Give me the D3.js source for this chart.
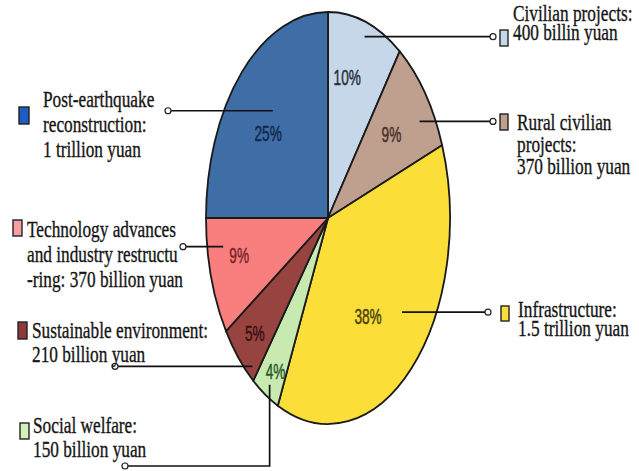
<!DOCTYPE html>
<html>
<head>
<meta charset="utf-8">
<script src="https://cdn.jsdelivr.net/npm/d3@7"></script>
<style>
  html, body { margin: 0; padding: 0; background: #fff; }
  svg { display: block; }
</style>
</head>
<body>
<div id="chart"></div>
<script>
// data: investment split, billion yuan, clockwise from 12 o'clock
const categories = ['Civilian projects', 'Rural civilian projects', 'Infrastructure', 'Social welfare',
  'Sustainable environment', 'Technology advances and industry restructuring', 'Post-earthquake reconstruction'];
const amounts = [400, 370, 1500, 150, 210, 370, 1000];
const percentLabels = ['10%', '9%', '38%', '4%', '5%', '9%', '25%'];
const legendLines = [
  ['Civilian projects:', '400 billin yuan'],
  ['Rural civilian', 'projects:', '370 billion yuan'],
  ['Infrastructure:', '1.5 trillion yuan'],
  ['Social welfare:', '150 billion yuan'],
  ['Sustainable environment:', '210 billion yuan'],
  ['Technology advances', 'and industry restructu', '-ring: 370 billion yuan'],
  ['Post-earthquake', 'reconstruction:', '1 trillion yuan'],
];

// styles
const fills = ['#c6d7ea', '#bf9f8e', '#fbdf38', '#c8eab0', '#974440', '#f97f7f', '#3f6ea6'];
const labelColors = ['#2a2f3a', '#4a3028', '#4d4210', '#2a5a2a', '#3a1212', '#7a2626', '#14284c'];
const swatchFills = ['#c6d7ea', '#bf9f8e', '#fbdf38', '#d2f0bc', '#8e3a38', '#f8a0a0', '#1d5ec4'];

// layout (pie is drawn as a circle squashed into an ellipse)
const W = 639, H = 471;
const cx = 328, cy = 218, rx = 122, ry = 206;
const labelPos = [[13, .70], [52, .66], [145.5, .58], [210, .86], [227, .82], [256, .75], [310, .64]];
const leaderFrom = [[18.8, .93], [58, .885], [127, .76], [210.6, .94], [220.7, .95], [260.8, .87], [319, .69]];
// circle end of each leader, legend swatch and text block
const legendLayout = [
  { cx: 493, sw: [500, 30, 8, 16], tx: 513, ty: 21, lh: 19 },
  { cx: 493, sw: [500, 114, 8, 16], tx: 517, ty: 130, lh: 22 },
  { cx: 488, sw: [501, 306, 8, 15], tx: 518, ty: 317, lh: 19 },
  { cx: 125, cy: 466, sw: [20, 423, 9, 16], tx: 33, ty: 433, lh: 24 },
  { cx: 115, sw: [18, 322, 9, 17], tx: 32, ty: 338, lh: 24 },
  { cx: 183, sw: [13, 220, 9, 16], tx: 27, ty: 237, lh: 25 },
  { cx: 168, sw: [19, 107, 10, 17], tx: 43, ty: 107, lh: 25 },
];

const ePoint = (deg, r) => {
  const a = deg * Math.PI / 180;
  return [cx + rx * r * Math.sin(a), cy - ry * r * Math.cos(a)];
};

const svg = d3.select('#chart').append('svg')
  .attr('width', W)
  .attr('height', H);

const pie = d3.pie().sort(null).value(d => d);
const arcs = pie(amounts);
const arc = d3.arc().innerRadius(0).outerRadius(100);

const pieG = svg.append('g')
  .attr('transform', `translate(${cx},${cy}) scale(${rx / 100},${ry / 100})`);

pieG.selectAll('path.slice')
  .data(arcs)
  .enter()
  .append('path')
  .attr('class', 'slice')
  .attr('d', arc)
  .attr('fill', (d, i) => fills[i])
  .attr('stroke', '#1a1a1a')
  .attr('stroke-width', 1.8)
  .attr('vector-effect', 'non-scaling-stroke');

// leader lines
const leaders = svg.append('g').attr('class', 'leaders');
arcs.forEach((d, i) => {
  const [x0, y0] = ePoint(leaderFrom[i][0], leaderFrom[i][1]);
  const L = legendLayout[i];
  let pts;
  if (L.cy !== undefined) {
    pts = [[x0, y0], [x0, L.cy], [L.cx + 3, L.cy]];
  } else {
    pts = [[x0, y0], [L.cx + (L.cx > cx ? -3 : 3), y0]];
  }
  leaders.append('path')
    .attr('d', d3.line()(pts))
    .attr('fill', 'none')
    .attr('stroke', '#111')
    .attr('stroke-width', 1.7);
  leaders.append('circle')
    .attr('cx', L.cx)
    .attr('cy', L.cy !== undefined ? L.cy : y0)
    .attr('r', 3)
    .attr('fill', '#fff')
    .attr('stroke', '#222')
    .attr('stroke-width', 1.2);
});

// percent labels
svg.selectAll('g.pct')
  .data(arcs)
  .enter()
  .append('g')
  .attr('class', 'pct')
  .attr('transform', (d, i) => {
    const [x, y] = ePoint(labelPos[i][0], labelPos[i][1]);
    return `translate(${x},${y}) scale(0.62,1)`;
  })
  .append('text')
  .attr('text-anchor', 'middle')
  .attr('dy', '0.36em')
  .attr('font-family', '"Liberation Sans", Arial, sans-serif')
  .attr('font-size', 22)
  .attr('fill', (d, i) => labelColors[i])
  .attr('stroke', (d, i) => labelColors[i])
  .attr('stroke-width', 0.5)
  .text((d, i) => percentLabels[i]);

// legend
const legend = svg.append('g').attr('class', 'legend');
categories.forEach((c, i) => {
  const L = legendLayout[i];
  legend.append('rect')
    .attr('x', L.sw[0])
    .attr('y', L.sw[1])
    .attr('width', L.sw[2])
    .attr('height', L.sw[3])
    .attr('fill', swatchFills[i])
    .attr('stroke', '#222')
    .attr('stroke-width', 1.4);
  const t = legend.append('g')
    .attr('transform', `translate(${L.tx},${L.ty}) scale(0.72,1)`)
    .append('text')
    .attr('font-family', '"Liberation Serif", serif')
    .attr('font-size', 24)
    .attr('fill', '#151515')
    .attr('stroke', '#151515')
    .attr('stroke-width', 0.35);
  legendLines[i].forEach((line, k) => {
    t.append('tspan')
      .attr('x', 0)
      .attr('y', k * L.lh)
      .text(line);
  });
});
</script>
</body>
</html>
